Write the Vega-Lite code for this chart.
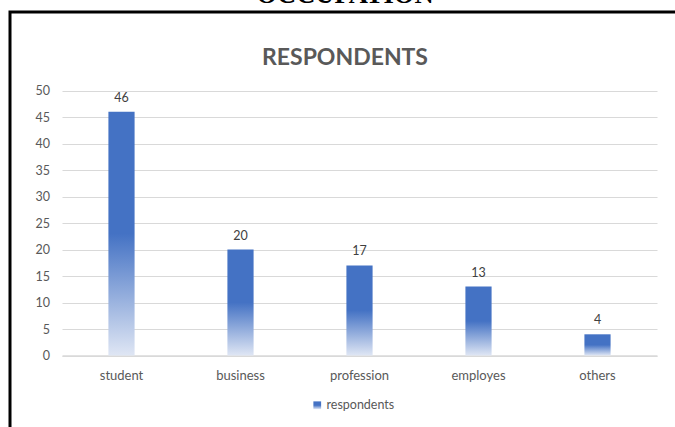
{
  "$schema": "https://vega.github.io/schema/vega-lite/v6.json",
  "width": 670,
  "height": 420,
  "autosize": {"type": "none"},
  "padding": {"left": 10, "top": 12, "right": 0, "bottom": 0},
  "background": "white",
  "title": {
    "text": "OCCUPATION",
    "subtitle": "RESPONDENTS",
    "anchor": "middle",
    "frame": "group",
    "offset": -58,
    "font": "Liberation Serif",
    "fontSize": 26.5,
    "fontWeight": "bold",
    "color": "black",
    "subtitleFont": "Lato",
    "subtitleFontSize": 23,
    "subtitleFontWeight": "bold",
    "subtitleColor": "#595959",
    "subtitlePadding": 39
  },
  "data": {
    "values": [
      {"occupation": "student", "respondents": 46, "series": "respondents"},
      {"occupation": "business", "respondents": 20, "series": "respondents"},
      {"occupation": "profession", "respondents": 17, "series": "respondents"},
      {"occupation": "employes", "respondents": 13, "series": "respondents"},
      {"occupation": "others", "respondents": 4, "series": "respondents"}
    ]
  },
  "config": {
    "view": {"stroke": "black", "strokeWidth": 3},
    "font": "Lato"
  },
  "encoding": {
    "x": {
      "field": "occupation",
      "type": "nominal",
      "sort": null,
      "scale": {"range": [52, 647], "paddingInner": 0.78, "paddingOuter": 0.39},
      "axis": {
        "title": null,
        "orient": "bottom",
        "offset": -76.5,
        "labelAngle": 0,
        "ticks": false,
        "domainColor": "#d9d9d9",
        "domainWidth": 1.5,
        "labelColor": "#595959",
        "labelFontSize": 13,
        "labelPadding": 14,
        "grid": false
      }
    },
    "y": {
      "field": "respondents",
      "type": "quantitative",
      "scale": {"domain": [0, 50], "range": [343.5, 78.5], "nice": false},
      "axis": {
        "title": null,
        "values": [0, 5, 10, 15, 20, 25, 30, 35, 40, 45, 50],
        "offset": -52,
        "ticks": false,
        "domain": false,
        "gridColor": "#d9d9d9",
        "gridWidth": 1.2,
        "labelColor": "#595959",
        "labelFontSize": 12.5,
        "labelPadding": 12.5
      }
    }
  },
  "layer": [
    {
      "mark": {
        "type": "bar",
        "strokeWidth": 0,
        "color": {
          "gradient": "linear",
          "x1": 0, "y1": 0, "x2": 0, "y2": 1,
          "stops": [
            {"offset": 0, "color": "#4472C4"},
            {"offset": 0.5, "color": "#4472C4"},
            {"offset": 1, "color": "#dfe6f4"}
          ]
        }
      },
      "encoding": {
        "stroke": {
          "field": "series",
          "type": "nominal",
          "scale": {"range": ["#4472C4"]},
          "legend": {
            "title": null,
            "orient": "none",
            "legendX": 301,
            "legendY": 387,
            "padding": 0,
            "symbolType": "square",
            "symbolSize": 60,
            "symbolFillColor": "#4472C4",
            "symbolStrokeWidth": 0,
            "labelColor": "#595959",
            "labelFontSize": 12.5,
            "labelOffset": 3
          }
        }
      }
    },
    {
      "mark": {"type": "text", "baseline": "alphabetic", "dy": -10, "fontSize": 12.5, "color": "#404040"},
      "encoding": {
        "text": {"field": "respondents", "type": "quantitative"}
      }
    }
  ]
}
